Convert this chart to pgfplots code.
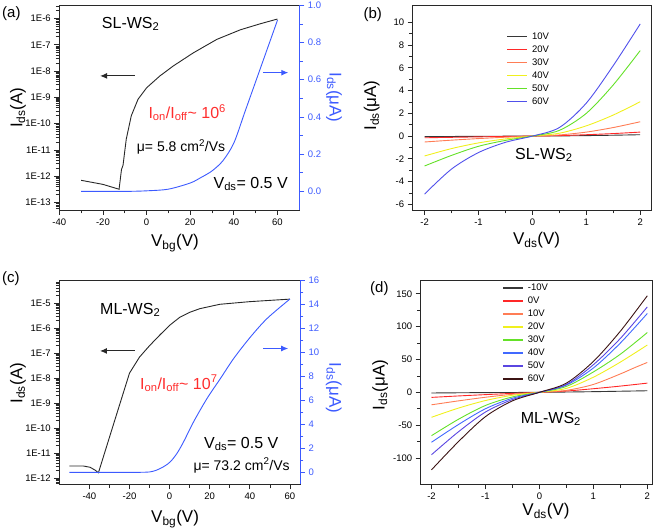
\documentclass[border=0pt]{standalone}
\usepackage{fontspec}
\setmainfont{Liberation Sans}
\usepackage{pgfplots}
\pgfplotsset{compat=1.18}
\usetikzlibrary{arrows.meta}

\definecolor{cdark}{RGB}{40,40,40}
\definecolor{cblue}{RGB}{60,90,255}
\definecolor{cred}{RGB}{255,45,45}
\definecolor{lK}{RGB}{55,55,55}
\definecolor{lR}{RGB}{255,40,40}
\definecolor{lO}{RGB}{255,125,85}
\definecolor{lY}{RGB}{240,240,30}
\definecolor{lG}{RGB}{100,225,40}
\definecolor{lB}{RGB}{80,80,235}
\definecolor{lB2}{RGB}{65,105,255}
\definecolor{lP}{RGB}{90,70,225}
\definecolor{lM}{RGB}{60,20,20}

\pgfplotsset{
  myax/.style={
    scale only axis,
    axis line style={line width=0.9pt, cdark},
    major tick style={line width=0.8pt, cdark},
    minor tick style={line width=0.8pt, cdark},
    tick align=outside, tick pos=left,
    major tick length=5pt, minor tick length=3.5pt,
    tick label style={font=\fontsize{9.5}{11}\selectfont},
    label style={font=\fontsize{17}{20}\selectfont},
    /pgf/number format/assume math mode=true,
  },
  logminor/.style={
    extra y ticks={#1},
    extra y tick labels={},
    extra y tick style={major tick length=3.5pt, major tick style={line width=0.7pt, cdark}},
  },
  twin/.style={
    scale only axis,
    axis y line*=right, axis x line=none,
    y axis line style={line width=0.9pt, cblue},
    ytick style={line width=0.8pt, cblue},
    ytick align=outside,
    major tick length=5pt, minor tick length=3.5pt,
    tick label style={font=\fontsize{9.5}{11}\selectfont, cblue},
    label style={font=\fontsize{17}{20}\selectfont, cblue},
    /pgf/number format/assume math mode=true,
  },
  ivleg/.style={
    legend cell align=left,
    legend image code/.code={\draw[##1, line width=1.8pt] (0pt,0pt) -- (20pt,0pt);},
    legend style={draw=none, fill=none, inner sep=0pt, row sep=2pt, column sep=3pt,
      font=\fontsize{9.5}{11}\selectfont,
      nodes={inner sep=1pt, text height=7pt, text depth=2pt}},
  },
}

\begin{document}
\begin{tikzpicture}
% ---------------- (a) ----------------
\begin{axis}[myax, at={(59.3pt,322pt)}, anchor=south west, width=240pt, height=204.7pt,
  xmin=-40, xmax=70, ymode=log, ymin=5.2e-14, ymax=3.16e-6,
  xtick={-40,-20,0,20,40,60}, minor x tick num=1,
  ytick={1e-13,1e-12,1e-11,1e-10,1e-9,1e-8,1e-7,1e-6},
  yticklabels={1E-13,1E-12,1E-11,1E-10,1E-9,1E-8,1E-7,1E-6},
  logminor={6e-14,7e-14,8e-14,9e-14,
    2e-13,3e-13,4e-13,5e-13,6e-13,7e-13,8e-13,9e-13,
    2e-12,3e-12,4e-12,5e-12,6e-12,7e-12,8e-12,9e-12,
    2e-11,3e-11,4e-11,5e-11,6e-11,7e-11,8e-11,9e-11,
    2e-10,3e-10,4e-10,5e-10,6e-10,7e-10,8e-10,9e-10,
    2e-9,3e-9,4e-9,5e-9,6e-9,7e-9,8e-9,9e-9,
    2e-8,3e-8,4e-8,5e-8,6e-8,7e-8,8e-8,9e-8,
    2e-7,3e-7,4e-7,5e-7,6e-7,7e-7,8e-7,9e-7,
    2e-6,3e-6},
  xlabel={V\textsubscript{bg}(V)}, ylabel={I\textsubscript{ds}(A)},
  xlabel style={at={(axis description cs:0.482,-0.161)}, anchor=center},
  ylabel style={at={(axis description cs:-0.172,0.5)}, anchor=center},
]
\addplot[cdark, line width=0.9pt] coordinates {
  (-30,7.0e-13) (-20,4.9e-13) (-12.6,3.2e-13) (-11.5,1.8e-12) (-10.8,2.6e-12)
  (-9.3,2.6e-11) (-7.0,2.0e-10) (-3.9,8.5e-10) (0,2.3e-9) (6.1,6.5e-9)
  (12.2,1.55e-8) (21.4,4.9e-8) (32.2,1.6e-7) (43,3.7e-7) (52.2,6.3e-7) (60,9.5e-7)};
\node[anchor=base west, inner sep=0, font=\fontsize{16}{18}\selectfont] at (rel axis cs:0.177,0.888) {SL-WS\textsubscript{2}};
\node[anchor=base west, inner sep=0, font=\fontsize{16}{18}\selectfont, text=cred] at (rel axis cs:0.371,0.448) {I\textsubscript{on}/I\textsubscript{off}\textasciitilde\ 10\textsuperscript{6}};
\node[anchor=base west, inner sep=0, font=\fontsize{14}{16}\selectfont] at (rel axis cs:0.3225,0.285) {μ= 5.8 cm\textsuperscript{2}/Vs};
\node[anchor=base west, inner sep=0, font=\fontsize{16}{18}\selectfont] at (rel axis cs:0.642,0.106) {V\textsubscript{ds}= 0.5 V};
\draw[cdark, line width=1pt, -{Latex[length=7pt,width=6pt]}] (rel axis cs:0.315,0.655) -- (rel axis cs:0.17,0.655);
\draw[cblue, line width=1pt, -{Latex[length=7pt,width=6pt]}] (rel axis cs:0.848,0.671) -- (rel axis cs:0.954,0.671);
\end{axis}
\begin{axis}[twin, at={(59.3pt,322pt)}, anchor=south west, width=240pt, height=204.7pt,
  xmin=-40, xmax=70, ymin=-0.1, ymax=1.0,
  ytick={0,0.2,0.4,0.6,0.8,1.0}, minor y tick num=1,
  yticklabel style={/pgf/number format/.cd, fixed, fixed zerofill, precision=1},
  ylabel={I\textsubscript{ds}(μA)},
  ylabel style={rotate=180, at={(axis description cs:1.145,0.55)}, anchor=center},
]
\addplot[cblue, line width=0.9pt, smooth, tension=0.5] coordinates {
  (-30,0) (-10,0) (0,0.003) (10,0.012) (20,0.045) (25,0.075) (30,0.11) (35,0.165)
  (40,0.26) (45,0.425) (50,0.59) (55,0.755) (60,0.92)};
\end{axis}
% ---------------- (b) ----------------
\begin{axis}[myax, ivleg, at={(412.7pt,322pt)}, anchor=south west, width=238.3pt, height=204.7pt,
  xmin=-2.22, xmax=2.2, ymin=-6.5, ymax=11.5,
  xtick={-2,-1,0,1,2}, minor x tick num=1,
  ytick={-6,-4,-2,0,2,4,6,8,10}, minor y tick num=1,
  xlabel={V\textsubscript{ds}(V)}, ylabel={I\textsubscript{ds}(μA)},
  xlabel style={at={(axis description cs:0.52,-0.147)}, anchor=center},
  ylabel style={at={(axis description cs:-0.172,0.51)}, anchor=center},
  legend style={at={(rel axis cs:0.392,0.875)}, anchor=north west},
  legend entries={10V,20V,30V,40V,50V,60V},
]
\addplot[lK, line width=0.9pt, smooth] coordinates {(-2,-0.05) (-1.5,-0.035) (-1,-0.022) (-0.5,-0.01) (0,0) (0.5,0.015) (1,0.04) (1.5,0.075) (2,0.12)};
\addplot[lR, line width=0.9pt, smooth] coordinates {(-2,-0.15) (-1.5,-0.11) (-1,-0.07) (-0.5,-0.03) (0,0) (0.5,0.04) (1,0.12) (1.5,0.22) (2,0.35)};
\addplot[lO, line width=0.9pt, smooth] coordinates {(-2,-0.52) (-1.5,-0.36) (-1,-0.22) (-0.5,-0.1) (0,0) (0.5,0.1) (1,0.35) (1.5,0.75) (2,1.26)};
\addplot[lY, line width=0.9pt, smooth] coordinates {(-2,-1.75) (-1.5,-1.1) (-1,-0.6) (-0.5,-0.25) (0,0) (0.5,0.25) (1,0.9) (1.5,1.85) (2,3.02)};
\addplot[lG, line width=0.9pt, smooth] coordinates {(-2,-2.63) (-1.5,-1.7) (-1,-0.9) (-0.5,-0.38) (0,0) (0.5,0.5) (1,2.0) (1.5,4.5) (2,7.52)};
\addplot[lB, line width=0.9pt, smooth] coordinates {(-2,-5.1) (-1.5,-2.9) (-1,-1.45) (-0.5,-0.55) (0,0) (0.5,0.75) (1,2.9) (1.5,6.2) (2,9.86)};
\node[anchor=base west, inner sep=0, font=\fontsize{16}{18}\selectfont] at (rel axis cs:0.429,0.248) {SL-WS\textsubscript{2}};
\end{axis}
% ---------------- (c) ----------------
\begin{axis}[myax, at={(59.3pt,47.7pt)}, anchor=south west, width=240.7pt, height=203.6pt,
  xmin=-55, xmax=65, ymode=log, ymin=5.75e-13, ymax=7.9e-5,
  xtick={-40,-20,0,20,40,60}, minor x tick num=1,
  ytick={1e-12,1e-11,1e-10,1e-9,1e-8,1e-7,1e-6,1e-5},
  yticklabels={1E-12,1E-11,1E-10,1E-9,1E-8,1E-7,1E-6,1E-5},
  logminor={6e-13,7e-13,8e-13,9e-13,
    2e-12,3e-12,4e-12,5e-12,6e-12,7e-12,8e-12,9e-12,
    2e-11,3e-11,4e-11,5e-11,6e-11,7e-11,8e-11,9e-11,
    2e-10,3e-10,4e-10,5e-10,6e-10,7e-10,8e-10,9e-10,
    2e-9,3e-9,4e-9,5e-9,6e-9,7e-9,8e-9,9e-9,
    2e-8,3e-8,4e-8,5e-8,6e-8,7e-8,8e-8,9e-8,
    2e-7,3e-7,4e-7,5e-7,6e-7,7e-7,8e-7,9e-7,
    2e-6,3e-6,4e-6,5e-6,6e-6,7e-6,8e-6,9e-6,
    2e-5,3e-5,4e-5,5e-5,6e-5,7e-5},
  xlabel={V\textsubscript{bg}(V)}, ylabel={I\textsubscript{ds}(A)},
  xlabel style={at={(axis description cs:0.481,-0.17)}, anchor=center},
  ylabel style={at={(axis description cs:-0.172,0.497)}, anchor=center},
]
\addplot[cdark, line width=0.9pt] coordinates {
  (-50,3.1e-12) (-43,3.1e-12) (-39.6,2.75e-12) (-37.1,2.1e-12) (-35.5,1.66e-12)
  (-27.6,1.8e-10) (-20,1.6e-8) (-15,7e-8) (-10,2e-7) (-5,5.2e-7) (0,1.3e-6)
  (5,2.7e-6) (10,4.3e-6) (15,6e-6) (25,9e-6) (40,1.15e-5) (60,1.45e-5)};
\node[anchor=base west, inner sep=0, font=\fontsize{16}{18}\selectfont] at (rel axis cs:0.169,0.835) {ML-WS\textsubscript{2}};
\node[anchor=base west, inner sep=0, font=\fontsize{16}{18}\selectfont, text=cred] at (rel axis cs:0.335,0.468) {I\textsubscript{on}/I\textsubscript{off}\textasciitilde\ 10\textsuperscript{7}};
\node[anchor=base west, inner sep=0, font=\fontsize{16}{18}\selectfont] at (rel axis cs:0.601,0.177) {V\textsubscript{ds}= 0.5 V};
\node[anchor=base west, inner sep=0, font=\fontsize{14}{16}\selectfont] at (rel axis cs:0.557,0.070) {μ= 73.2 cm\textsuperscript{2}/Vs};
\draw[cdark, line width=1pt, -{Latex[length=7pt,width=6pt]}] (rel axis cs:0.314,0.655) -- (rel axis cs:0.169,0.655);
\draw[cblue, line width=1pt, -{Latex[length=7pt,width=6pt]}] (rel axis cs:0.848,0.667) -- (rel axis cs:0.951,0.667);
\end{axis}
\begin{axis}[twin, at={(59.3pt,47.7pt)}, anchor=south west, width=240.7pt, height=203.6pt,
  xmin=-55, xmax=65, ymin=-1, ymax=16,
  ytick={0,2,4,6,8,10,12,14,16}, minor y tick num=1,
  ylabel={I\textsubscript{ds}(μA)},
  ylabel style={rotate=180, at={(axis description cs:1.14,0.473)}, anchor=center},
]
\addplot[cblue, line width=0.9pt, smooth, tension=0.5] coordinates {
  (-50,0) (-15,0) (-8,0.1) (-3,0.47) (0.35,0.88) (3.7,1.59) (7,2.56) (12,4.23)
  (18.7,6.18) (25.4,7.85) (32,9.52) (40.4,11.32) (48.7,12.86) (60,14.47)};
\end{axis}
% ---------------- (d) ----------------
\begin{axis}[myax, ivleg, at={(420.7pt,47.7pt)}, anchor=south west, width=232pt, height=204.3pt,
  xmin=-2.2, xmax=2.1, ymin=-140, ymax=171,
  xtick={-2,-1,0,1,2}, minor x tick num=1,
  ytick={-100,-50,0,50,100,150}, minor y tick num=1,
  xlabel={V\textsubscript{ds}(V)}, ylabel={I\textsubscript{ds}(μA)},
  xlabel style={at={(axis description cs:0.54,-0.131)}, anchor=center},
  ylabel style={at={(axis description cs:-0.175,0.486)}, anchor=center},
  legend style={at={(rel axis cs:0.35,0.988)}, anchor=north west},
  legend entries={-10V,0V,10V,20V,30V,40V,50V,60V},
]
\addplot[lK, line width=0.9pt, smooth] coordinates {(-2,-1) (-1,-0.4) (0,0) (1,1) (2,2.4)};
\addplot[lR, line width=0.9pt, smooth] coordinates {(-2,-7.7) (-1.5,-5.5) (-1,-3.5) (-0.5,-1.6) (0,0) (0.5,2) (1,5.5) (1.5,9.5) (2,14)};
\addplot[lO, line width=0.9pt, smooth] coordinates {(-2,-19) (-1.5,-13) (-1,-7.5) (-0.5,-3) (0,0) (0.5,3) (1,12) (1.5,28) (1.75,37) (2,45.5)};
\addplot[lY, line width=0.9pt, smooth] coordinates {(-2,-38) (-1.5,-24) (-1,-12.5) (-0.5,-4.5) (0,0) (0.5,6) (1,23) (1.5,46) (2,72)};
\addplot[lG, line width=0.9pt, smooth] coordinates {(-2,-66) (-1.5,-41) (-1,-20) (-0.5,-7) (0,0) (0.5,9) (1,31) (1.5,58) (2,91)};
\addplot[lB2, line width=0.9pt, smooth] coordinates {(-2,-76) (-1.5,-49) (-1,-25) (-0.5,-9) (0,0) (0.5,11) (1,37) (1.5,75) (2,120)};
\addplot[lP, line width=0.9pt, smooth] coordinates {(-2,-95) (-1.5,-60) (-1,-30) (-0.5,-11) (0,0) (0.5,12) (1,42) (1.5,82) (2,130)};
\addplot[lM, line width=0.9pt, smooth] coordinates {(-2,-118) (-1.5,-75) (-1,-37) (-0.5,-13) (0,0) (0.5,14) (1,47) (1.5,93) (2,147)};
\node[anchor=base west, inner sep=0, font=\fontsize{16}{18}\selectfont] at (rel axis cs:0.431,0.299) {ML-WS\textsubscript{2}};
\end{axis}
% panel labels
\node[anchor=base west, inner sep=0, font=\fontsize{15}{17}\selectfont] at (2pt,514.5pt) {(a)};
\node[anchor=base west, inner sep=0, font=\fontsize{15}{17}\selectfont] at (363.3pt,513.7pt) {(b)};
\node[anchor=base west, inner sep=0, font=\fontsize{15}{17}\selectfont] at (2pt,249.5pt) {(c)};
\node[anchor=base west, inner sep=0, font=\fontsize{15}{17}\selectfont] at (370pt,239pt) {(d)};
\pgfresetboundingbox
\useasboundingbox (0pt,0pt) rectangle (661pt,532pt);
\end{tikzpicture}
\end{document}
